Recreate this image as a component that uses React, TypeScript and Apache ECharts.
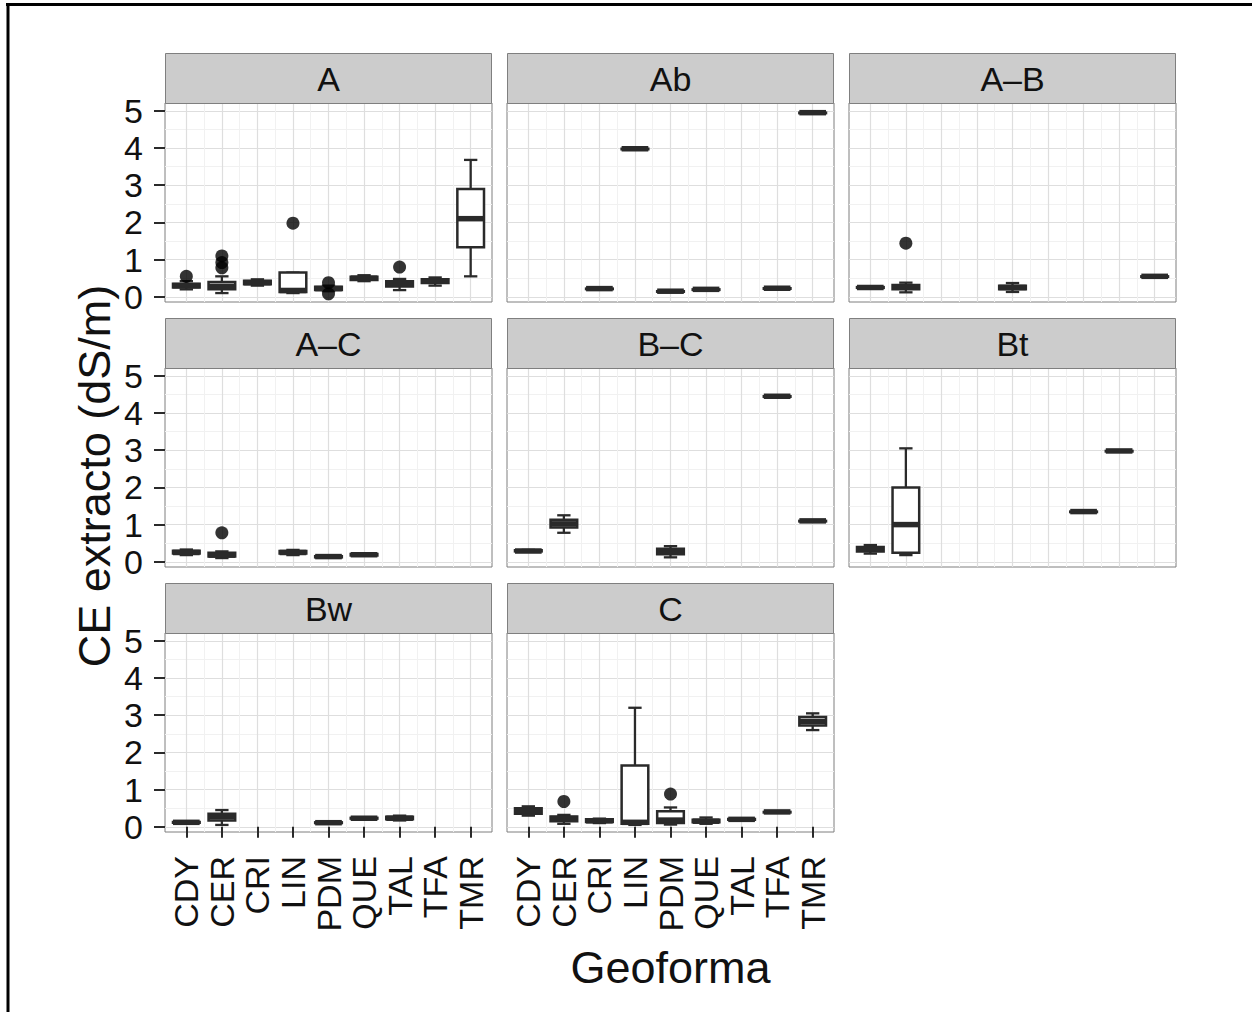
import React, { useEffect, useRef } from 'react';
import * as echarts from 'echarts';

// ---------- data ----------
const geoformas = ['CDY', 'CER', 'CRI', 'LIN', 'PDM', 'QUE', 'TAL', 'TFA', 'TMR'];
const horizontes = ['A', 'Ab', 'A–B', 'A–C', 'B–C', 'Bt', 'Bw', 'C'];
const yTicks = [0, 1, 2, 3, 4, 5];
const yMinorTicks = [0.5, 1.5, 2.5, 3.5, 4.5];
const xTicks = [1, 2, 3, 4, 5, 6, 7, 8, 9];
const xMinorTicks = [1.5, 2.5, 3.5, 4.5, 5.5, 6.5, 7.5, 8.5];
const yAxisTitle = 'CE extracto (dS/m)';
const xAxisTitle = 'Geoforma';

// [geoforma, min, Q1, median, Q3, max]
const boxA = [
  ['CDY', 0.2, 0.25, 0.3, 0.35, 0.42],
  ['CER', 0.1, 0.2, 0.28, 0.4, 0.55],
  ['CRI', 0.3, 0.34, 0.38, 0.43, 0.47],
  ['LIN', 0.1, 0.13, 0.17, 0.65, 0.65],
  ['PDM', 0.15, 0.18, 0.22, 0.27, 0.3],
  ['QUE', 0.42, 0.45, 0.5, 0.54, 0.58],
  ['TAL', 0.18, 0.28, 0.35, 0.42, 0.48],
  ['TFA', 0.3, 0.37, 0.42, 0.47, 0.52],
  ['TMR', 0.55, 1.33, 2.1, 2.9, 3.68],
];
const outA = [['CDY', 0.55], ['CER', 1.1], ['CER', 0.92], ['CER', 0.78], ['LIN', 1.98], ['PDM', 0.38], ['PDM', 0.08], ['TAL', 0.8]];

const boxAb = [
  ['CRI', 0.22, 0.22, 0.22, 0.22, 0.22],
  ['LIN', 3.98, 3.98, 3.98, 3.98, 3.98],
  ['PDM', 0.15, 0.15, 0.15, 0.15, 0.15],
  ['QUE', 0.2, 0.2, 0.2, 0.2, 0.2],
  ['TFA', 0.23, 0.23, 0.23, 0.23, 0.23],
  ['TMR', 4.95, 4.95, 4.95, 4.95, 4.95],
];
const outAb = [];

const boxAtoB = [
  ['CDY', 0.23, 0.24, 0.25, 0.26, 0.27],
  ['CER', 0.12, 0.2, 0.27, 0.32, 0.38],
  ['PDM', 0.13, 0.2, 0.25, 0.3, 0.37],
  ['TMR', 0.55, 0.55, 0.55, 0.55, 0.55],
];
const outAtoB = [['CER', 1.44]];

const boxAtoC = [
  ['CDY', 0.18, 0.22, 0.25, 0.3, 0.33],
  ['CER', 0.1, 0.14, 0.18, 0.24, 0.28],
  ['LIN', 0.18, 0.22, 0.25, 0.29, 0.32],
  ['PDM', 0.11, 0.12, 0.14, 0.15, 0.16],
  ['QUE', 0.16, 0.17, 0.19, 0.21, 0.22],
];
const outAtoC = [['CER', 0.78]];

const boxBtoC = [
  ['CDY', 0.27, 0.28, 0.29, 0.31, 0.32],
  ['CER', 0.78, 0.92, 1.02, 1.13, 1.25],
  ['PDM', 0.12, 0.2, 0.27, 0.35, 0.42],
  ['TFA', 4.45, 4.45, 4.45, 4.45, 4.45],
  ['TMR', 1.1, 1.1, 1.1, 1.1, 1.1],
];
const outBtoC = [];

const boxBt = [
  ['CDY', 0.22, 0.28, 0.34, 0.4, 0.45],
  ['CER', 0.18, 0.24, 1.0, 2.0, 3.05],
  ['TAL', 1.35, 1.35, 1.35, 1.35, 1.35],
  ['TFA', 2.98, 2.98, 2.98, 2.98, 2.98],
];
const outBt = [];

const boxBw = [
  ['CDY', 0.1, 0.11, 0.12, 0.13, 0.14],
  ['CER', 0.05, 0.17, 0.27, 0.35, 0.45],
  ['PDM', 0.09, 0.1, 0.11, 0.12, 0.13],
  ['QUE', 0.21, 0.22, 0.23, 0.24, 0.25],
  ['TAL', 0.17, 0.2, 0.23, 0.27, 0.3],
];
const outBw = [];

const boxC = [
  ['CDY', 0.3, 0.35, 0.42, 0.5, 0.55],
  ['CER', 0.08, 0.15, 0.22, 0.28, 0.32],
  ['CRI', 0.1, 0.13, 0.16, 0.2, 0.22],
  ['LIN', 0.05, 0.08, 0.12, 1.65, 3.2],
  ['PDM', 0.06, 0.1, 0.18, 0.42, 0.52],
  ['QUE', 0.08, 0.12, 0.15, 0.19, 0.25],
  ['TAL', 0.18, 0.19, 0.2, 0.21, 0.22],
  ['TFA', 0.4, 0.4, 0.4, 0.4, 0.4],
  ['TMR', 2.6, 2.72, 2.83, 2.95, 3.05],
];
const outC = [['CER', 0.68], ['PDM', 0.88]];

const panelBoxes = [boxA, boxAb, boxAtoB, boxAtoC, boxBtoC, boxBt, boxBw, boxC];
const panelOutliers = [outA, outAb, outAtoB, outAtoC, outBtoC, outBt, outBw, outC];

// ---------- layout / style ----------
const COL_X = [165, 507, 849];
const ROW_Y = [53, 318, 583];
const PANEL_W = 327;
const STRIP_H = 50;
const PANEL_H = 199;
const Y_MIN = -0.14;
const Y_MAX = 5.21;
const FONT = '"Liberation Sans", Arial, Helvetica, sans-serif';
const INK = '#2a2a2a';
const TEXT = '#111111';

function buildOption() {
  const grids: any[] = [];
  const xAxes: any[] = [];
  const yAxes: any[] = [];
  const series: any[] = [];
  const graphics: any[] = [];

  // outer frame (top and left lines)
  graphics.push({ type: 'line', shape: { x1: 6, y1: 4.5, x2: 1252, y2: 4.5 }, style: { stroke: '#000', lineWidth: 3 }, z: 100 });
  graphics.push({ type: 'line', shape: { x1: 8, y1: 3, x2: 8, y2: 1012 }, style: { stroke: '#000', lineWidth: 3 }, z: 100 });

  horizontes.forEach((name, i) => {
    const row = Math.floor(i / 3);
    const col = i % 3;
    const left = COL_X[col];
    const stripTop = ROW_Y[row];
    const top = stripTop + STRIP_H;
    const showX = i === 6 || i === 7;
    const showY = col === 0;

    grids.push({
      left, top, width: PANEL_W, height: PANEL_H,
      show: true, backgroundColor: '#ffffff', borderColor: '#7f7f7f', borderWidth: 1,
    });

    xAxes.push({
      type: 'value', gridIndex: i, min: 0.4, max: 9.6, position: 'bottom',
      axisLine: { show: false },
      axisTick: { show: showX, customValues: xTicks, length: 11, lineStyle: { color: INK, width: 2 } },
      axisLabel: {
        show: showX, customValues: xTicks, rotate: 90, margin: 24, fontSize: 34, color: TEXT, fontFamily: FONT,
        formatter: (v: number) => geoformas[Math.round(v) - 1] || '',
      },
      splitLine: { show: true, lineStyle: { color: '#dedede', width: 1.2 } },
    });
    xAxes.push({
      type: 'value', gridIndex: i, min: 0.4, max: 9.6, position: 'top',
      axisLine: { show: false },
      axisTick: { show: false, customValues: xMinorTicks },
      axisLabel: { show: false },
      splitLine: { show: true, lineStyle: { color: '#f1f1f1', width: 1 } },
    });
    yAxes.push({
      type: 'value', gridIndex: i, min: Y_MIN, max: Y_MAX, position: 'left',
      axisLine: { show: false },
      axisTick: { show: showY, customValues: yTicks, length: 11, lineStyle: { color: INK, width: 2 } },
      axisLabel: { show: showY, customValues: yTicks, margin: 22, fontSize: 34, color: TEXT, fontFamily: FONT },
      splitLine: { show: true, lineStyle: { color: '#dedede', width: 1.2 } },
    });
    yAxes.push({
      type: 'value', gridIndex: i, min: Y_MIN, max: Y_MAX, position: 'right',
      axisLine: { show: false },
      axisTick: { show: false, customValues: yMinorTicks },
      axisLabel: { show: false },
      splitLine: { show: true, lineStyle: { color: '#f1f1f1', width: 1 } },
    });

    const boxData = panelBoxes[i].map((r: any[]) => [geoformas.indexOf(r[0]) + 1, r[1], r[2], r[3], r[4], r[5]]);
    series.push({
      type: 'custom',
      xAxisIndex: 2 * i,
      yAxisIndex: 2 * i,
      encode: { x: 0, y: [1, 2, 3, 4, 5] },
      data: boxData,
      z: 3,
      renderItem: (params: any, api: any) => {
        const x = api.value(0);
        const pMin = api.coord([x, api.value(1)]);
        const pQ1 = api.coord([x, api.value(2)]);
        const pMed = api.coord([x, api.value(3)]);
        const pQ3 = api.coord([x, api.value(4)]);
        const pMax = api.coord([x, api.value(5)]);
        const bw = api.size([0.75, 0])[0];
        const cw = api.size([0.375, 0])[0];
        const cx = pMed[0];
        const ls = { stroke: INK, lineWidth: 2.3 };
        return {
          type: 'group',
          children: [
            { type: 'line', shape: { x1: cx, y1: pMax[1], x2: cx, y2: pQ3[1] }, style: ls },
            { type: 'line', shape: { x1: cx, y1: pQ1[1], x2: cx, y2: pMin[1] }, style: ls },
            { type: 'line', shape: { x1: cx - cw / 2, y1: pMax[1], x2: cx + cw / 2, y2: pMax[1] }, style: ls },
            { type: 'line', shape: { x1: cx - cw / 2, y1: pMin[1], x2: cx + cw / 2, y2: pMin[1] }, style: ls },
            {
              type: 'rect',
              shape: { x: cx - bw / 2, y: pQ3[1], width: bw, height: Math.max(pQ1[1] - pQ3[1], 0.5) },
              style: { fill: '#ffffff', stroke: INK, lineWidth: 2.5 },
            },
            { type: 'line', shape: { x1: cx - bw / 2, y1: pMed[1], x2: cx + bw / 2, y2: pMed[1] }, style: { stroke: INK, lineWidth: 5.5 } },
          ],
        };
      },
    });
    series.push({
      type: 'scatter',
      xAxisIndex: 2 * i,
      yAxisIndex: 2 * i,
      symbol: 'circle',
      symbolSize: 13,
      itemStyle: { color: '#000000' },
      z: 4,
      data: panelOutliers[i].map((r: any[]) => [geoformas.indexOf(r[0]) + 1, r[1]]),
    });

    // strip
    graphics.push({
      type: 'rect',
      shape: { x: left + 0.5, y: stripTop + 0.5, width: PANEL_W - 1, height: STRIP_H },
      style: { fill: '#cccccc', stroke: '#7f7f7f', lineWidth: 1 },
      z: 50,
    });
    graphics.push({
      type: 'text',
      x: left + PANEL_W / 2,
      y: stripTop + STRIP_H / 2 + 1,
      style: { text: name, fontSize: 34, fontFamily: FONT, fill: TEXT, align: 'center', verticalAlign: 'middle' },
      z: 51,
    });
  });

  // axis titles
  graphics.push({
    type: 'text', x: 670.5, y: 967,
    style: { text: xAxisTitle, fontSize: 45, fontFamily: FONT, fill: TEXT, align: 'center', verticalAlign: 'middle' },
    z: 51,
  });
  graphics.push({
    type: 'text', x: 94, y: 476, rotation: Math.PI / 2,
    style: { text: yAxisTitle, fontSize: 45, fontFamily: FONT, fill: TEXT, align: 'center', verticalAlign: 'middle' },
    z: 51,
  });

  return {
    animation: false,
    backgroundColor: '#ffffff',
    textStyle: { fontFamily: FONT },
    grid: grids,
    xAxis: xAxes,
    yAxis: yAxes,
    series,
    graphic: { elements: graphics },
  };
}

export default function App() {
  const ref = useRef<HTMLDivElement>(null);
  useEffect(() => {
    if (!ref.current) return;
    const chart = echarts.init(ref.current, undefined, { renderer: 'svg' });
    chart.setOption(buildOption());
    return () => chart.dispose();
  }, []);
  return (
    <div
      ref={ref}
      style={{ position: 'fixed', left: 0, top: 0, width: 1252, height: 1012, background: '#fff' }}
    />
  );
}
